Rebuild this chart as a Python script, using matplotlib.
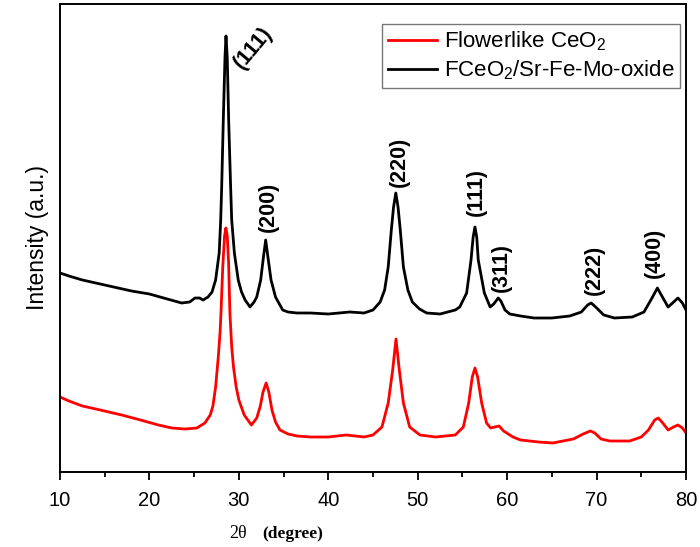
import matplotlib
matplotlib.use("Agg")
import matplotlib.pyplot as plt
from matplotlib import font_manager
from matplotlib.ticker import MultipleLocator

# ---- data ----
theta_black = [10.0, 11, 12.5, 14, 16, 18, 20, 22, 23.6, 24.5, 25.1, 25.6, 26.0, 26.55,
               27.0, 27.4, 27.8, 27.97, 28.08, 28.26, 28.45, 28.56, 28.7, 28.86, 29.08,
               29.2, 29.5, 29.93, 30.3, 30.7, 31.25, 31.7, 32.0, 32.44, 32.75, 33.0,
               33.25, 33.6, 34.1, 34.9, 35.5, 36.5, 38, 40, 42.4, 44.0, 45.0, 45.8, 46.3,
               46.7, 47.05, 47.3, 47.55, 47.8, 48.05, 48.4, 48.9, 49.4, 50.2, 51.0, 52.5,
               54.2, 54.7, 55.47, 55.96, 56.2, 56.4, 56.6, 56.77, 57.45, 58.1, 58.5, 59.0,
               59.3, 59.76, 60.3, 61.5, 63, 65, 67, 68.3, 69.0, 69.4, 69.9, 70.8, 72, 74,
               75.3, 76.2, 76.8, 77.3, 78.0, 78.5, 79.1, 79.6, 80.0]
int_black = [199, 196, 192, 189, 185, 181, 178, 173, 169, 170, 174, 174, 172, 175,
             180, 192, 219, 252, 285, 352, 415, 436, 415, 352, 285,
             252, 219, 192, 180, 172, 165, 170, 175, 192, 215, 232,
             215, 192, 175, 162, 160, 159, 159, 158, 160, 159, 162, 170, 182,
             205, 242, 265, 279, 265, 242, 205, 182, 170, 163, 159, 158,
             162, 165, 179, 212, 235, 245, 235, 212, 179, 165, 168, 174,
             171, 162, 158, 156, 154, 154, 156, 160, 167, 169, 165, 157, 154, 155,
             160, 174, 184, 176, 165, 169, 174, 169, 162]

theta_red = [10.0, 11, 12.5, 14.5, 16.9, 19, 21, 22.5, 24, 25.3, 26.2, 26.8, 27.1, 27.4,
             27.7, 27.9, 28.0, 28.2, 28.4, 28.55, 28.7, 28.85, 29.0, 29.2, 29.4, 29.7,
             30.0, 30.6, 31.4, 32.0, 32.4, 32.7, 33.05, 33.35, 33.7, 34.1, 34.6, 35.5,
             36.5, 38, 40, 42, 44, 45.0, 46.0, 46.7, 47.2, 47.57, 47.94, 48.4, 49.1,
             50.25, 52, 54.2, 55.1, 55.7, 56.1, 56.4, 56.7, 57.15, 57.7, 58.15, 58.6,
             59.1, 59.6, 60.65, 61.5, 63.5, 65.1, 67.4, 68.5, 69.3, 69.8, 70.5, 71.5,
             73.7, 75.0, 75.8, 76.5, 76.9, 77.4, 78.0, 78.6, 79.1, 79.6, 80.0]
int_red = [75, 71, 66, 62, 57, 52, 47, 44, 43, 44, 49, 57, 66, 85,
           115, 140, 159, 205, 236, 244, 236, 210, 159, 125, 105, 85,
           72, 57, 47, 54, 66, 80, 89, 80, 62, 50, 42, 38,
           36, 35, 35, 37, 35, 37, 45, 69, 102, 133, 102, 69, 45,
           37, 35, 37, 45, 69, 95, 104, 95, 69, 49, 44, 45,
           46, 41, 35, 32, 30, 29, 33, 38, 41, 39, 33, 31,
           31, 35, 42, 52, 54, 49, 42, 45, 47, 44, 39]

peak_labels = ["(111)", "(200)", "(220)", "(111)", "(311)", "(222)", "(400)"]
peak_label_x = [31.6, 33.3, 47.9, 56.6, 59.4, 69.8, 76.5]
peak_label_y = [424, 265, 310, 280, 205, 202, 219]
peak_label_rot = [50, 90, 90, 90, 90, 90, 90]

series_names = ["Flowerlike CeO$_2$", "FCeO$_2$/Sr-Fe-Mo-oxide"]
xticks = [10, 20, 30, 40, 50, 60, 70, 80]

# ---- fonts ----
avail = {f.name for f in font_manager.fontManager.ttflist}
sans = "Liberation Sans" if "Liberation Sans" in avail else "DejaVu Sans"
serif = "Liberation Serif" if "Liberation Serif" in avail else "DejaVu Serif"
plt.rcParams["font.family"] = [sans, "DejaVu Sans"]
plt.rcParams["mathtext.fontset"] = "custom"
plt.rcParams["mathtext.rm"] = sans
plt.rcParams["mathtext.it"] = sans
plt.rcParams["mathtext.bf"] = sans + ":bold"

fig = plt.figure(figsize=(7.0, 5.47), dpi=100)
ax = fig.add_axes([60 / 700, (547 - 472) / 547, 626 / 700, 468 / 547])

ax.plot(theta_red, int_red, color="#ff0000", lw=2.0, label=series_names[0])
ax.plot(theta_black, int_black, color="black", lw=2.0, label=series_names[1])

ax.set_xlim(10, 80)
ax.set_ylim(0, 468)
ax.set_yticks([])
ax.xaxis.set_major_locator(MultipleLocator(10))
ax.xaxis.set_minor_locator(MultipleLocator(5))
ax.tick_params(axis="x", which="major", direction="out", length=6, width=1.3,
               top=False, pad=8)
ax.tick_params(axis="x", which="minor", direction="out", length=3.5, width=1.3, top=False)
ax.set_xticks(xticks)
ax.set_xticklabels([str(t) for t in xticks], fontsize=14.5)
for s in ax.spines.values():
    s.set_linewidth(1.4)

for lab, x, y, r in zip(peak_labels, peak_label_x, peak_label_y, peak_label_rot):
    ax.text(x, y, lab, rotation=r, ha="center", va="center", fontsize=15.5,
            fontweight="bold", family=sans)

ax.set_ylabel("Intensity (a.u.)", fontsize=16.5, family=sans, labelpad=8)
fig.text(229 / 700, 1 - 538 / 547, "2θ", fontsize=13, family=serif,
         ha="left", va="baseline")
fig.text(262 / 700, 1 - 538 / 547, "(degree)", fontsize=12.5,
         family=serif, fontweight="bold", ha="left", va="baseline")

leg = ax.legend(loc="upper right", bbox_to_anchor=(0.99, 0.957), fontsize=16,
                frameon=True, fancybox=False, edgecolor="#555555", handlelength=2.2,
                handletextpad=0.3, borderaxespad=0, borderpad=0.25, labelspacing=0.25)
leg.get_frame().set_linewidth(1.0)
for l in leg.get_lines():
    l.set_linewidth(2)

fig.savefig("out.png", dpi=100)
